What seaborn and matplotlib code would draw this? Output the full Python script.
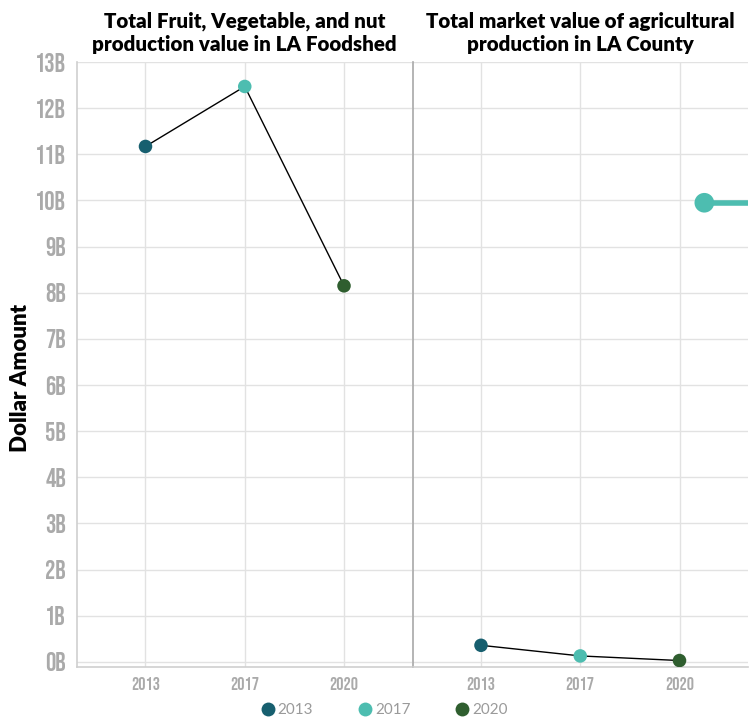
import os
import matplotlib
matplotlib.use("Agg")
import matplotlib.pyplot as plt
from matplotlib import font_manager
from matplotlib.font_manager import FontProperties
from matplotlib.lines import Line2D
import seaborn as sns
import pandas as pd

# ---- data (billions of dollars) ----
years = ["2013", "2017", "2020"]
foodshed_values = [11.17, 12.47, 8.15]
county_values = [0.36, 0.13, 0.03]
next_series_x = [2.25, 3.2]
next_series_y = [9.95, 9.95]
y_ticks = list(range(0, 14))
y_tick_labels = [f"{v}B" for v in y_ticks]
panel_titles = [
    "Total Fruit, Vegetable, and nut\nproduction value in LA Foodshed",
    "Total market value of agricultural\nproduction in LA County",
]
year_colors = {"2013": "#175f6f", "2017": "#4dbdb0", "2020": "#2f5e2f"}

sns.set_theme(style="white")
plt.rcParams["font.family"] = ["Lato", "DejaVu Sans"]

_files = {os.path.basename(f.fname): f.fname for f in font_manager.fontManager.ttflist}


def font_file(candidates, size, fallback_family="DejaVu Sans", weight="bold"):
    for c in candidates:
        if c in _files:
            return FontProperties(fname=_files[c], size=size)
    return FontProperties(family=fallback_family, weight=weight, size=size)


tick_fp_y = font_file(["BebasNeue-Regular.ttf", "DejaVuSansCondensed-Bold.ttf"], 18.5)
tick_fp_x = font_file(["BebasNeue-Regular.ttf", "DejaVuSansCondensed-Bold.ttf"], 13)
title_fp = font_file(["Lato-Black.ttf", "Lato-Bold.ttf"], 14.8)
ylabel_fp = font_file(["Lato-Black.ttf", "Lato-Bold.ttf"], 16)
legend_fp = font_file(["Lato-Regular.ttf"], 11, weight="normal")

fig = plt.figure(figsize=(7.49, 7.17), dpi=100)
W, H = 749, 717
ax_left = fig.add_axes([77 / W, 1 - 667 / H, 335.5 / W, 605 / H])
ax_right = fig.add_axes([412.5 / W, 1 - 667 / H, 335.5 / W, 605 / H])

grid_c = "#e2e2e2"
tick_c = "#aaaaaa"

for ax, vals, title in [(ax_left, foodshed_values, panel_titles[0]),
                        (ax_right, county_values, panel_titles[1])]:
    df = pd.DataFrame({"year": years, "x": range(len(years)), "value": vals})
    sns.lineplot(data=df, x="x", y="value", color="black", linewidth=1.0,
                 ax=ax, legend=False, zorder=3)
    sns.scatterplot(data=df, x="x", y="value", hue="year", palette=year_colors,
                    s=95, edgecolor="none", ax=ax, legend=False, zorder=4)
    ax.set_xlim(-0.69, 2.69)
    ax.set_ylim(-0.11, 13)
    ax.set_xticks(range(len(years)))
    ax.set_xticklabels(years)
    ax.set_yticks(y_ticks)
    ax.set_xlabel("")
    ax.set_ylabel("")
    ax.grid(True, color=grid_c, linewidth=1.0, zorder=0)
    ax.set_axisbelow(True)
    for s in ["top", "right"]:
        ax.spines[s].set_visible(False)
    ax.spines["bottom"].set_color("#cfcfcf")
    ax.spines["bottom"].set_linewidth(1.2)
    ax.tick_params(axis="x", length=0, pad=7, labelcolor=tick_c)
    ax.tick_params(axis="y", length=0, pad=8, labelcolor=tick_c)
    for lab in ax.get_xticklabels():
        lab.set_fontproperties(tick_fp_x)
    ax.set_title(title, fontproperties=title_fp, color="black",
                 pad=8, linespacing=1.22)

ax_left.set_yticklabels(y_tick_labels)
for lab in ax_left.get_yticklabels():
    lab.set_fontproperties(tick_fp_y)
ax_left.spines["left"].set_color("#cfcfcf")
ax_left.spines["left"].set_linewidth(1.2)
ax_right.set_yticklabels([])
ax_right.spines["left"].set_color("#a8a8a8")
ax_right.spines["left"].set_linewidth(1.2)

# Partial series continuing past the right edge
nxt = pd.DataFrame({"x": next_series_x, "value": next_series_y})
sns.lineplot(data=nxt, x="x", y="value", color="#4dbdb0", linewidth=4,
             ax=ax_right, legend=False, zorder=3)
sns.scatterplot(data=nxt.iloc[:1], x="x", y="value", color="#4dbdb0", s=200,
                edgecolor="none", ax=ax_right, legend=False, zorder=4)
ax_right.set_xlim(-0.69, 2.69)
ax_right.set_xlabel("")
ax_right.set_ylabel("")

fig.text(21 / W, 1 - 378 / H, "Dollar Amount", rotation=90, ha="center",
         va="center", fontproperties=ylabel_fp, color="black")

handles = [Line2D([0], [0], marker="o", linestyle="none", markersize=10,
                  markerfacecolor=year_colors[y], markeredgecolor="none")
           for y in years]
fig.legend(handles, years, loc="center", bbox_to_anchor=(384 / W, 1 - 710 / H),
           ncol=3, frameon=False, handletextpad=0.15, columnspacing=2.9,
           handlelength=1.0, prop=legend_fp, labelcolor="#9a9a9a")

fig.savefig("out.png", dpi=100)
